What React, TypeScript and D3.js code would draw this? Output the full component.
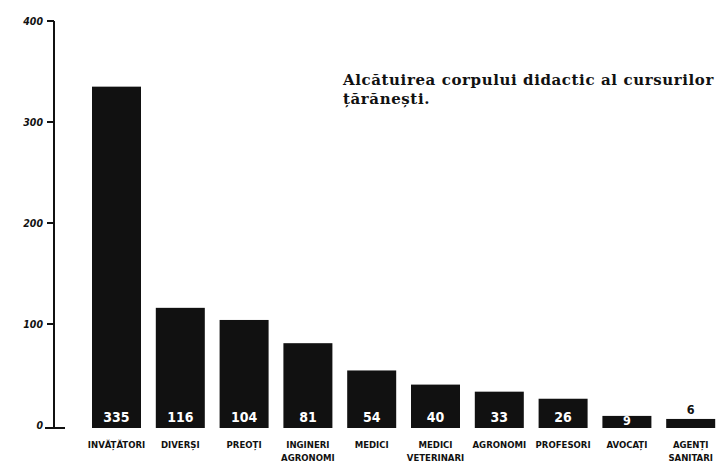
import React from "react";
import * as d3 from "d3";

const categories: string[][] = [
  ["INVĂȚĂTORI"],
  ["DIVERȘI"],
  ["PREOȚI"],
  ["INGINERI", "AGRONOMI"],
  ["MEDICI"],
  ["MEDICI", "VETERINARI"],
  ["AGRONOMI"],
  ["PROFESORI"],
  ["AVOCAȚI"],
  ["AGENȚI", "SANITARI"],
];
const values: number[] = [335, 116, 104, 81, 54, 40, 33, 26, 9, 6];
const yTicks: number[] = [0, 100, 200, 300, 400];
const titleLines: string[] = ["Alcătuirea corpului didactic al cursurilor", "țărănești."];

const W = 726;
const H = 464;
const cond = "'DejaVu Sans Condensed', 'DejaVu Sans', sans-serif";

export default function App() {
  const keys = categories.map((c) => c.join(" "));
  const x = d3
    .scaleBand<string>()
    .domain(keys)
    .range([84.6, 722.6])
    .paddingInner(0.232)
    .paddingOuter(0.116);
  const y = d3.scaleLinear().domain([0, 400]).range([425, 21]);
  const axisX = 54;
  const base = y(0) + 3;

  return (
    <svg
      width={W}
      height={H}
      style={{ position: "absolute", left: 0, top: 0, background: "#fff" }}
    >
      {/* axis */}
      <line x1={axisX} x2={axisX} y1={y(400)} y2={base + 1} stroke="#111" strokeWidth={2} />
      {yTicks.map((t) => {
        const ty = t === 0 ? base : y(t);
        return (
          <g key={t}>
            <line
              x1={t === 0 ? 45 : 47}
              x2={t === 0 ? 65 : axisX}
              y1={ty}
              y2={ty}
              stroke="#111"
              strokeWidth={2}
            />
            <text
              x={43}
              y={ty + (t === 0 ? 1 : 3.5)}
              textAnchor="end"
              fontFamily={cond}
              fontWeight="bold"
              fontStyle="italic"
              fontSize={10.5}
              fill="#111"
            >
              {t}
            </text>
          </g>
        );
      })}

      {/* bars */}
      {values.map((v, i) => {
        const k = keys[i];
        const bx = x(k)!;
        const bw = x.bandwidth();
        const top = y(v);
        const cx = bx + bw / 2;
        const small = v < 8;
        return (
          <g key={k}>
            <rect x={bx} y={top} width={bw} height={base - top} fill="#111" />
            <text
              x={cx}
              y={small ? top - 5 : v < 20 ? 425 : 422}
              textAnchor="middle"
              fontFamily={cond}
              fontWeight="bold"
              fontSize={v < 20 ? 12.5 : 14}
              fill={small ? "#111" : "#fff"}
            >
              {v}
            </text>
            {categories[i].map((line, j) => (
              <text
                key={j}
                x={cx}
                y={448 + j * 13}
                textAnchor="middle"
                fontFamily={cond}
                fontWeight="bold"
                fontSize={9.5}
                fill="#111"
              >
                {line}
              </text>
            ))}
          </g>
        );
      })}

      {/* title */}
      {titleLines.map((l, i) => (
        <text
          key={i}
          x={343}
          y={85 + i * 19}
          fontFamily="'DejaVu Serif', serif"
          fontWeight="bold"
          fontSize={15}
          letterSpacing={0.6}
          fill="#111"
        >
          {l}
        </text>
      ))}
    </svg>
  );
}
